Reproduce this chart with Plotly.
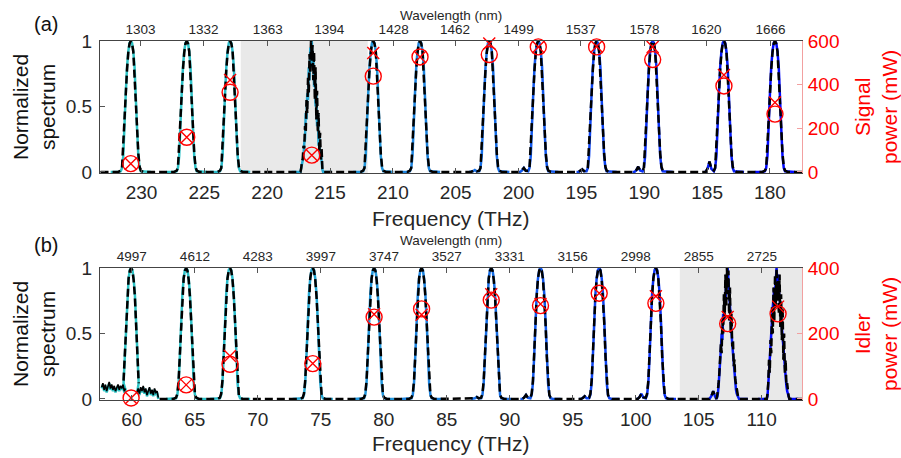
import plotly.graph_objects as go

C_NM_THZ = 299792.458  # speed of light, nm*THz (wavelength <-> frequency scale)

# ---------------- data ----------------
signal_freq = [230.85, 226.4, 222.95, 216.45, 211.56, 207.84, 202.33, 198.43, 193.79, 189.33, 183.66, 179.6]
idler_freq = [59.94, 64.31, 67.79, 74.36, 79.23, 83.0, 88.53, 92.44, 97.1, 101.6, 107.3, 111.3]

signal_power_circle = [38, 159, 365, 77, 439, 527, 538, 573, 573, 515, 394, 265]
signal_power_cross = [38, 159, 421, 77, 545, 527, 589, 573, 575, 573, 444, 318]
idler_power_circle = [3, 43, 106, 108, 250, 275, 302, 285, 323, 292, 230, 260]
idler_power_cross = [3, 43, 131, 108, 259, 257, 320, 290, 323, 314, 250, 282]

signal_freq_ticks = [230, 225, 220, 215, 210, 205, 200, 195, 190, 185, 180]
idler_freq_ticks = [60, 65, 70, 75, 80, 85, 90, 95, 100, 105, 110]
signal_wl_ticks = [1303, 1332, 1363, 1394, 1428, 1462, 1499, 1537, 1578, 1620, 1666]
idler_wl_ticks = [4997, 4612, 4283, 3997, 3747, 3527, 3331, 3156, 2998, 2855, 2725]

signal_range = [233.3, 177.45]
idler_range = [57.47, 113.2]
signal_shade = [222.1, 212.0]
idler_shade = [103.5, 113.2]

peak_colors = ['#2dc4c6', '#2cc2c8', '#2bbccb', '#24a8d4', '#2196dc', '#1c84e0',
               '#166ee6', '#1158ec', '#0c44f1', '#0830f6', '#041af9', '#0008ff']

# line shape of one spectral peak (offset from centre in THz)
offsets = [-1.6, -1.45, -1.3, -1.15, -1.0, -0.8, -0.7, -0.6, -0.5, -0.4, -0.3, -0.2, -0.1, 0.0,
           0.1, 0.2, 0.3, 0.4, 0.5, 0.6, 0.7, 0.8, 1.0, 1.15, 1.3, 1.45, 1.6]
line_solid = [0, 0, 0, 0, 0, 0.005, 0.03, 0.12, 0.33, 0.6, 0.8, 0.92, 0.985, 1.0,
              0.985, 0.92, 0.8, 0.6, 0.33, 0.12, 0.03, 0.005, 0, 0, 0, 0, 0]
line_dashed = [0, 0, 0, 0, 0, 0.01, 0.04, 0.14, 0.35, 0.6, 0.79, 0.92, 0.98, 1.0,
               0.98, 0.91, 0.78, 0.58, 0.32, 0.12, 0.03, 0.01, 0, 0, 0, 0, 0]
shoulder = [0, 0, 0, 0, 0, 0, 0, 0, 0, 0, 0, 0, 0, 0,
            0, 0, 0, 0, 0, 0, 0, 0, 0.3, 1.0, 0.35, 0, 0]
signal_shoulder = [0, 0, 0, 0, 0, 0, 0.015, 0.03, 0.02, 0.04, 0.08, 0]
idler_shoulder = [0, 0, 0, 0, 0, 0, 0.015, 0.03, 0.02, 0.04, 0.06, 0]

# noisy peaks (inside the grey bands)
noisy_offsets = [-0.9, -0.84, -0.78, -0.72, -0.66, -0.6, -0.54, -0.48, -0.42, -0.36, -0.3, -0.24,
                 -0.18, -0.12, -0.06, 0.0, 0.06, 0.12, 0.18, 0.24, 0.3, 0.36, 0.42, 0.48, 0.54,
                 0.6, 0.66, 0.72, 0.78, 0.84, 0.9]
sig4_dashed = [0, 0.03, 0.18, 0.08, 0.3, 0.15, 0.45, 0.3, 0.62, 0.4, 0.8, 0.55, 0.92, 0.7, 0.97,
               0.85, 1.0, 0.75, 0.9, 0.6, 0.72, 0.45, 0.55, 0.3, 0.35, 0.18, 0.2, 0.1, 0.08, 0.03, 0]
sig4_solid = [0, 0.02, 0.08, 0.15, 0.12, 0.28, 0.2, 0.45, 0.35, 0.6, 0.5, 0.78, 0.65, 0.9, 0.8,
              1.0, 0.85, 0.95, 0.7, 0.8, 0.55, 0.6, 0.4, 0.45, 0.25, 0.22, 0.12, 0.08, 0.04, 0.01, 0]
idl11_dashed = [0, 0.02, 0.06, 0.12, 0.2, 0.3, 0.42, 0.35, 0.6, 0.5, 0.8, 0.62, 0.95, 0.7, 1.0,
                0.8, 0.98, 0.6, 0.85, 0.5, 0.65, 0.4, 0.45, 0.25, 0.3, 0.15, 0.12, 0.06, 0.03, 0.01, 0]
idl11_solid = [0, 0.01, 0.04, 0.1, 0.18, 0.28, 0.38, 0.5, 0.45, 0.65, 0.6, 0.75, 0.72, 0.9, 0.85,
               1.0, 0.88, 0.8, 0.7, 0.6, 0.52, 0.42, 0.35, 0.25, 0.18, 0.12, 0.07, 0.04, 0.02, 0.01, 0]
idl12_dashed = [0, 0.04, 0.12, 0.3, 0.2, 0.45, 0.35, 0.7, 0.5, 0.85, 0.6, 0.95, 0.7, 1.0, 0.75,
                0.9, 0.65, 0.95, 0.55, 0.8, 0.45, 0.7, 0.3, 0.5, 0.2, 0.3, 0.1, 0.12, 0.04, 0.02, 0]
idl12_solid = [0, 0.02, 0.08, 0.2, 0.3, 0.38, 0.5, 0.6, 0.7, 0.75, 0.85, 0.8, 0.92, 1.0, 0.88,
               0.95, 0.82, 0.78, 0.7, 0.62, 0.55, 0.45, 0.38, 0.3, 0.22, 0.15, 0.1, 0.06, 0.03, 0.01, 0]

# noisy floor at the low-frequency end of the idler spectrum
idler_noise_left_x = [57.6, 57.7, 57.8, 57.9, 58.0, 58.1, 58.2, 58.3, 58.4, 58.5,
                      58.6, 58.7, 58.8, 58.9, 59.0, 59.1, 59.2, 59.3, 59.4, 59.5]
idler_noise_left_y = [0.08, 0.11, 0.06, 0.1, 0.05, 0.09, 0.12, 0.07, 0.1, 0.06,
                      0.09, 0.05, 0.08, 0.1, 0.06, 0.09, 0.07, 0.1, 0.05, 0.07]
idler_noise_right_x = [60.4, 60.5, 60.6, 60.7, 60.8, 60.9, 61.0, 61.1, 61.2,
                       61.3, 61.4, 61.5, 61.6, 61.7, 61.8, 61.9, 62.0, 62.1]
idler_noise_right_y = [0.04, 0.07, 0.03, 0.08, 0.05, 0.09, 0.04, 0.07, 0.02,
                       0.06, 0.08, 0.03, 0.06, 0.02, 0.07, 0.04, 0.05, 0.0]

signal_noisy = {3: (sig4_solid, sig4_dashed)}
idler_noisy = {10: (idl11_solid, idl11_dashed), 11: (idl12_solid, idl12_dashed)}

RED = '#ff0000'
FONT = 'Liberation Sans, Arial, Helvetica, sans-serif'


def peak_points(center, sh_height, flip, prof, noisy=None):
    sh = shoulder[::-1] if flip else shoulder
    pts = []
    for o, v, s in zip(offsets, prof, sh):
        if noisy is not None and abs(o) < 1.0:
            continue
        pts.append((center + o, v + sh_height * s))
    if noisy is not None:
        for o, v in zip(noisy_offsets, noisy):
            pts.append((center + o, v))
    pts.sort()
    return pts


fig = go.Figure()

# ---------------- panel (a): signal ----------------
dash_pts = []
for i, f in enumerate(signal_freq):
    nz = signal_noisy.get(i)
    sp = peak_points(f, signal_shoulder[i], False, line_solid, nz[0] if nz else None)
    dp = peak_points(f, signal_shoulder[i], False, line_dashed, nz[1] if nz else None)
    dash_pts += dp
    fig.add_trace(go.Scatter(x=[p[0] for p in sp], y=[p[1] for p in sp], mode='lines',
                             line=dict(color=peak_colors[i], width=2.5), xaxis='x', yaxis='y',
                             hoverinfo='skip'))
dash_pts += [(signal_range[0], 0), (signal_range[1], 0)]
dash_pts.sort()
fig.add_trace(go.Scatter(x=[p[0] for p in dash_pts], y=[p[1] for p in dash_pts], mode='lines',
                         line=dict(color='black', width=2.5, dash='8px,4px'),
                         xaxis='x', yaxis='y', hoverinfo='skip'))

# ---------------- panel (b): idler ----------------
core = [(o, v) for o, v in zip(offsets, line_solid) if abs(o) <= 0.6]
core_d = [(o, v) for o, v in zip(offsets, line_dashed) if abs(o) <= 0.6]
f0 = idler_freq[0]
teal_x = idler_noise_left_x + [f0 + o for o, v in core] + idler_noise_right_x
teal_y = idler_noise_left_y + [v for o, v in core] + idler_noise_right_y
fig.add_trace(go.Scatter(x=teal_x, y=teal_y, mode='lines', line=dict(color=peak_colors[0], width=2.5),
                         xaxis='x2', yaxis='y3', hoverinfo='skip'))
for xs, ys in ((idler_noise_left_x, idler_noise_left_y), (idler_noise_right_x, idler_noise_right_y)):
    fig.add_trace(go.Scatter(x=xs, y=[v + 0.01 for v in ys], mode='lines',
                             line=dict(color='black', width=1.6),
                             xaxis='x2', yaxis='y3', hoverinfo='skip'))

dash_pts = []
for i, f in enumerate(idler_freq):
    if i == 0:
        continue
    nz = idler_noisy.get(i)
    sp = peak_points(f, idler_shoulder[i], True, line_solid, nz[0] if nz else None)
    dp = peak_points(f, idler_shoulder[i], True, line_dashed, nz[1] if nz else None)
    dash_pts += dp
    fig.add_trace(go.Scatter(x=[p[0] for p in sp], y=[p[1] for p in sp], mode='lines',
                             line=dict(color=peak_colors[i], width=2.5), xaxis='x2', yaxis='y3',
                             hoverinfo='skip'))
dash_pts += [(62.2, 0), (idler_range[1], 0)]
dash_pts.sort()
dx = [f0 + o for o, v in core_d] + [None] + [p[0] for p in dash_pts]
dy = [v for o, v in core_d] + [None] + [p[1] for p in dash_pts]
fig.add_trace(go.Scatter(x=dx, y=dy, mode='lines', connectgaps=False,
                         line=dict(color='black', width=2.5, dash='8px,4px'),
                         xaxis='x2', yaxis='y3', hoverinfo='skip'))

# ---------------- power markers (drawn on the top wavelength axes, same range) ----------------
circ = dict(symbol='circle-open', size=16, color=RED, line=dict(width=1.4, color=RED))
cross = dict(symbol='x-thin-open', size=12, color=RED, line=dict(width=1.4, color=RED))
fig.add_trace(go.Scatter(x=signal_freq, y=signal_power_circle, mode='markers', marker=circ,
                         xaxis='x3', yaxis='y2', cliponaxis=False))
fig.add_trace(go.Scatter(x=signal_freq, y=signal_power_cross, mode='markers', marker=cross,
                         xaxis='x3', yaxis='y2', cliponaxis=False))
fig.add_trace(go.Scatter(x=idler_freq, y=idler_power_circle, mode='markers', marker=circ,
                         xaxis='x4', yaxis='y4', cliponaxis=False))
fig.add_trace(go.Scatter(x=idler_freq, y=idler_power_cross, mode='markers', marker=cross,
                         xaxis='x4', yaxis='y4', cliponaxis=False))

# ---------------- layout ----------------
W, H = 901, 458
X0, X1 = 100 / W, 802 / W


def ydom(top_px, bot_px):
    return [1 - bot_px / H, 1 - top_px / H]


common = dict(showgrid=False, zeroline=False, ticks='inside', ticklen=5, tickwidth=1,
              tickcolor='#555555', showline=True, linecolor='#444444', linewidth=1,
              automargin=False)
red_common = dict(showgrid=False, zeroline=False, ticks='inside', ticklen=5, tickwidth=1,
                  tickcolor='#f2a0a0', showline=True, linecolor='#f2a0a0', linewidth=1,
                  automargin=False)

fig.update_layout(
    width=W, height=H, margin=dict(l=0, r=0, t=0, b=0, autoexpand=False),
    paper_bgcolor='white', plot_bgcolor='white', showlegend=False,
    font=dict(family=FONT, color='#262626'),
    xaxis=dict(domain=[X0, X1], anchor='y', range=signal_range, tickvals=signal_freq_ticks,
               tickfont=dict(size=19), ticklabelstandoff=2, **common),
    xaxis3=dict(overlaying='x', anchor='y', side='top', range=signal_range,
                tickvals=[C_NM_THZ / w for w in signal_wl_ticks],
                ticktext=[str(w) for w in signal_wl_ticks],
                tickfont=dict(size=13.5), ticklabelstandoff=1, **common),
    yaxis=dict(domain=ydom(41, 173), anchor='x', range=[-0.008, 1.0], tickvals=[0, 0.5, 1],
               ticktext=['0', '0.5', '1'], tickfont=dict(size=19), ticklabelstandoff=3, **common),
    yaxis2=dict(overlaying='y', anchor='x', side='right', range=[-4.8, 600],
                tickvals=[0, 200, 400, 600], tickfont=dict(size=19, color=RED),
                ticklabelstandoff=1, **red_common),
    xaxis2=dict(domain=[X0, X1], anchor='y3', range=idler_range, tickvals=idler_freq_ticks,
                tickfont=dict(size=19), ticklabelstandoff=2, **common),
    xaxis4=dict(overlaying='x2', anchor='y3', side='top', range=idler_range,
                tickvals=[C_NM_THZ / w for w in idler_wl_ticks],
                ticktext=[str(w) for w in idler_wl_ticks],
                tickfont=dict(size=13.5), ticklabelstandoff=1, **common),
    yaxis3=dict(domain=ydom(268, 400), anchor='x2', range=[-0.008, 1.0], tickvals=[0, 0.5, 1],
                ticktext=['0', '0.5', '1'], tickfont=dict(size=19), ticklabelstandoff=3, **common),
    yaxis4=dict(overlaying='y3', anchor='x2', side='right', range=[-3.2, 400],
                tickvals=[0, 200, 400], tickfont=dict(size=19, color=RED),
                ticklabelstandoff=1, **red_common),
    shapes=[
        dict(type='rect', xref='x', yref='y domain', x0=signal_shade[0], x1=signal_shade[1],
             y0=0, y1=1, fillcolor='#e9e9e9', line=dict(width=0), layer='below'),
        dict(type='rect', xref='x2', yref='y3 domain', x0=idler_shade[0], x1=idler_shade[1],
             y0=0, y1=1, fillcolor='#e9e9e9', line=dict(width=0), layer='below'),
    ],
)


def ann(text, px, py, size, color='#262626', angle=0):
    fig.add_annotation(text=text, x=px / W, y=1 - py / H, xref='paper', yref='paper',
                       showarrow=False, xanchor='center', yanchor='middle', textangle=angle,
                       font=dict(size=size, color=color, family=FONT))


ann('(a)', 46, 24, 20, '#111111')
ann('(b)', 46, 245, 20, '#111111')
ann('Wavelength (nm)', 451, 15, 13.5)
ann('Wavelength (nm)', 451, 240, 13.5)
ann('Frequency (THz)', 451, 218, 21)
ann('Frequency (THz)', 451, 443, 21)
ann('Normalized<br>spectrum', 34, 107, 21, '#111111', -90)
ann('Normalized<br>spectrum', 34, 334, 21, '#111111', -90)
ann('Signal<br>power (mW)', 876, 107, 21, RED, -90)
ann('Idler<br>power (mW)', 876, 334, 21, RED, -90)

fig.write_html('out.html', config={'displayModeBar': False},
               post_script="document.body.style.margin='0';document.body.style.overflow='hidden';")
